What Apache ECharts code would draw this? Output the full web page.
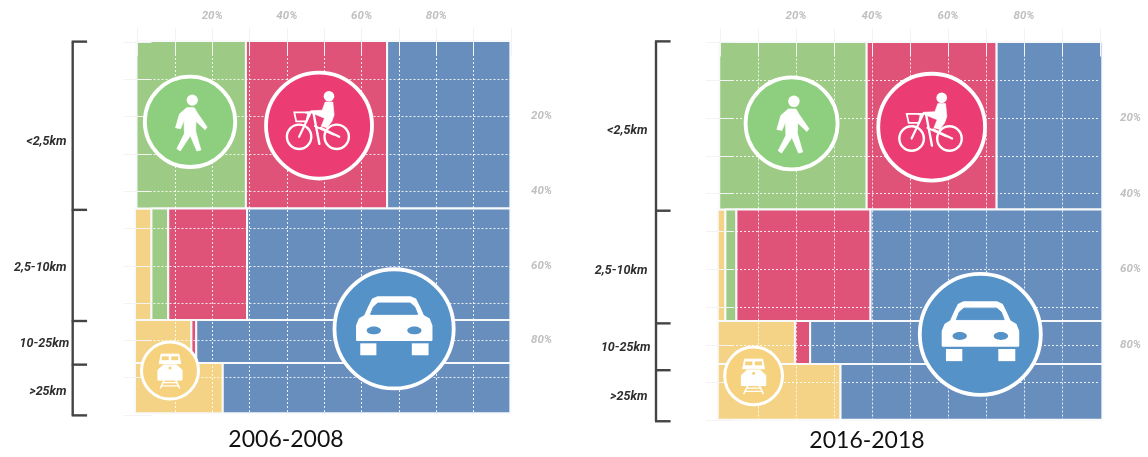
<!DOCTYPE html>
<html><head><meta charset="utf-8">
<style>html,body{margin:0;padding:0;background:#fff}#c{width:1148px;height:457px}</style>
<script src="https://cdn.jsdelivr.net/npm/echarts@6/dist/echarts.min.js"></script>
</head><body><div id="c"></div>
<script>
// ---- data (percent of trips in each distance band) ----
const periods = ['2006-2008', '2016-2018'];
const distanceBands = ['<2,5km', '2,5-10km', '10-25km', '>25km'];
const axisLabelValues = [20, 40, 60, 80];

const trainA = [0, 4.4, 15.1, 23.5];
const walkA  = [29.3, 4.5, 0, 0];
const bikeA  = [37.8, 21.1, 1.3, 0];
const carA   = [33.0, 70.5, 84.1, 77.0];
const rowStartA = [-0.27, -0.67, -0.67, -0.67];
const rowHeightA = [44.9, 29.9, 11.5, 13.5];

const trainB = [0, 2.0, 20.3, 32.3];
const walkB  = [38.8, 2.9, 0, 0];
const bikeB  = [34.2, 35.3, 4.0, 0];
const carB   = [27.8, 61.0, 76.9, 68.9];
const rowStartB = [-0.2, -0.58, -0.58, -0.58];
const rowHeightB = [44.3, 29.5, 11.4, 14.7];

const bracketA = [-0.1, 45, 74.8, 86.5, 100.1];
const bracketB = [-0.3, 44.5, 74.3, 86.7, 100.2];
const bandLabelYA = [26.7, 60.6, 80.9, 93.7];
const bandLabelYB = [23.3, 60.3, 80.7, 93.7];

const iconsA = {walk:[14.06,21.4,45.2], bike:[48.6,22.4,53], car:[68.7,76.9,59.6], train:[8.7,88.1,28.5]};
const iconsB = {walk:[18.84,21.4,46], bike:[55.7,22.4,53.4], car:[68.5,77.2,60.5], train:[8.84,88.2,28.9]};

// ---- style ----
const modeColor = {train:'#f4d386', walk:'#9dcb85', bike:'#e05379', car:'#688ebe'};
const iconColor = {train:'#f6d27e', walk:'#8dcf7e', bike:'#ec3c74', car:'#5592c8'};
const modes = ['train','walk','bike','car'];

function buildRects(mode, tables, starts, heights){
  const out = [];
  let top = heights === rowHeightA ? -0.27 : -0.13;
  heights.forEach((h,i)=>{
    let x = starts[i];
    for (const m of modes){
      const w = tables[m][i];
      if (m === mode && w > 0) out.push([x, x+w, top, top+h]);
      x += w;
    }
    top += h;
  });
  return out;
}
function rectItem(color){
  return (params, api)=>{
    const p0 = api.coord([api.value(0), api.value(2)]);
    const p1 = api.coord([api.value(1), api.value(3)]);
    return {type:'rect', shape:{x:p0[0], y:p0[1], width:p1[0]-p0[0], height:p1[1]-p0[1]},
      style:{fill:color, stroke:'#f7f9fb', lineWidth:2}};
  };
}

// glyph geometry, in unit-circle coordinates derived from the picture
function U(pts, ox, oy, s){ return pts.map(p=>[(p[0]-ox)/s,(p[1]-oy)/s]); }
const walker = U([[170,143],[193,143],[203,160],[232,202],[226,210],[198,184],[197,215],[213,272],[201,275],[181,228],[150,275],[140,268],[163,222],[162,180],[151,207],[136,204],[148,162]],180,186,138);
const riderB = U([[584,125],[608,125],[612,165],[605,185],[590,205],[572,200],[582,175],[545,160],[540,152],[575,150]],565,198,165);
const carBody = U([[740,107],[840,107],[856,114],[868,138],[880,165],[898,175],[906,195],[906,240],[675,240],[675,195],[683,175],[700,165],[712,138],[724,114]],790,205,185);
const carWin = U([[717,160],[726,137],[740,125],[840,125],[854,137],[863,160]],790,205,185);
const carW1 = U([[685,250],[735,250],[735,287],[685,287]],790,205,185);
const carW2 = U([[845,250],[897,250],[897,287],[845,287]],790,205,185);
const trTop = U([[92,278],[148,278],[154,308],[86,308]],120,330,90);
const trW1 = U([[94,285],[116,285],[116,297],[94,297]],120,330,90);
const trW2 = U([[124,285],[146,285],[146,297],[124,297]],120,330,90);
const trBody = U([[100,312],[140,312],[158,328],[158,360],[82,360],[82,328]],120,330,90);

function iconItem(kind){
  return (params, api)=>{
    const c = api.coord([api.value(0), api.value(1)]);
    const r = api.value(2);
    const X = u=>c[0]+u*r, Y = u=>c[1]+u*r;
    const poly = (pts,fill,sw)=>({type:'polygon', shape:{points:pts.map(p=>[X(p[0]),Y(p[1])])},
      style:{fill:fill, stroke:fill, lineWidth:sw===undefined?1:sw, lineJoin:'round'}});
    const line = (a,b,w)=>({type:'line', shape:{x1:X(a[0]),y1:Y(a[1]),x2:X(b[0]),y2:Y(b[1])},
      style:{stroke:'#fff', lineWidth:w, lineCap:'round'}});
    const ring = (u,v,ru,w)=>({type:'circle', shape:{cx:X(u),cy:Y(v),r:ru*r},
      style:{fill:'none', stroke:'#fff', lineWidth:w}});
    const dot = (u,v,ru,f)=>({type:'circle', shape:{cx:X(u),cy:Y(v),r:ru*r}, style:{fill:f||'#fff'}});
    const bg = iconColor[kind];
    const ch = [{type:'circle', shape:{cx:c[0],cy:c[1],r:r}, style:{fill:bg, stroke:'#fff', lineWidth: kind==='train'?3:3.8}}];
    const n = (x,y)=>[(x-565)/165,(y-198)/165];
    if (kind==='walk'){
      ch.push(dot(0.05,-0.48,0.125), poly(walker,'#fff',0.8));
    } else if (kind==='bike'){
      ch.push(dot(...n(596,107),0.1), poly(riderB,'#fff',0.6));
      ch.push(ring(...n(503,233),0.23,2.4), ring(...n(620,233),0.23,2.4));
      ch.push(line(n(540,155),n(503,233),2.2), line(n(548,160),n(566,255),2.4), line(n(570,205),n(628,233),2.2),
              line(n(552,200),n(610,226),2), line(n(525,158),n(560,155),2));
      ch.push({type:'polygon', shape:{points:[n(488,157),n(532,157),n(526,185),n(494,185)].map(p=>[X(p[0]),Y(p[1])])},
              style:{fill:'none', stroke:'#fff', lineWidth:1.8}});
    } else if (kind==='car'){
      ch.push(poly(carBody,'#fff',2), poly(carWin,bg,1));
      ch.push({type:'ellipse', shape:{cx:X(-63/185),cy:Y(5/185),rx:22/185*r,ry:12/185*r}, style:{fill:bg}});
      ch.push({type:'ellipse', shape:{cx:X(63/185),cy:Y(5/185),rx:22/185*r,ry:12/185*r}, style:{fill:bg}});
      ch.push(poly(carW1,'#fff',0), poly(carW2,'#fff',0));
    } else {
      ch.push(poly(trTop,'#fff',1), poly(trW1,bg,0), poly(trW2,bg,0), poly(trBody,'#fff',1), dot(0,-0.09,0.055,bg));
      const t=(x,y)=>[(x-120)/90,(y-330)/90];
      ch.push(line(t(102,360),t(90,385),1.5), line(t(138,360),t(150,385),1.5), line(t(98,368),t(142,368),1.3), line(t(93,378),t(147,378),1.3));
    }
    return {type:'group', children:ch};
  };
}
function bracketItem(stemX, tickX){
  return (params, api)=>{
    const v = api.value(0);
    const a = api.coord([tickX, v]), b = api.coord([stemX, v]);
    const ch = [{type:'line', shape:{x1:b[0]-1,y1:b[1],x2:a[0],y2:a[1]}, style:{stroke:'#444', lineWidth:2.4}}];
    if (params.dataIndex>0){
      const prev = api.coord([stemX, api.value(1)]);
      ch.push({type:'line', shape:{x1:b[0],y1:prev[1],x2:b[0],y2:b[1]}, style:{stroke:'#444', lineWidth:2.4}});
    }
    return {type:'group', children:ch};
  };
}
function labelItem(x, x2){
  return (params, api)=>{
    const p = api.coord([params.dataIndex===2?x2:x, api.value(0)]);
    return {type:'text', x:p[0], y:p[1], style:{text:distanceBands[params.dataIndex], align:'right', verticalAlign:'middle',
      font:'italic 700 12.5px "Liberation Sans Narrow", Roboto, sans-serif', fill:'#2e2e2e'}};
  };
}

function axes(gridIndex){
  const tick = {show:true, length:14, lineStyle:{color:'#f3f3f3', width:1}};
  const split = {show:true, showMinLine:false, showMaxLine:false, lineStyle:{color:'rgba(255,255,255,0.85)', type:[2,2], width:1}};
  const lbl = {show:true, formatter:v=>axisLabelValues.includes(v)?v+'%':'', color:'#c0c0c0',
    fontFamily:'Roboto', fontStyle:'italic', fontWeight:700, fontSize:11.5, margin:20};
  const base = {gridIndex, type:'value', min:0, max:100, interval:10, z:10, axisLine:{show:false}};
  return {
    x:[Object.assign({},base,{position:'top', axisTick:tick, splitLine:split, axisLabel:lbl}),
       Object.assign({},base,{position:'bottom', axisTick:tick, splitLine:{show:false}, axisLabel:{show:false}})],
    y:[Object.assign({},base,{position:'left', inverse:true, axisTick:tick, splitLine:split, axisLabel:{show:false}}),
       Object.assign({},base,{position:'right', inverse:true, axisTick:tick, splitLine:{show:false}, axisLabel:lbl})]
  };
}
const ax0 = axes(0), ax1 = axes(1);

function panelSeries(xi, yi, tables, starts, heights, bracket, labelY, icons, stemX, tickX, lx, lx2){
  const s = [];
  modes.forEach(m=>s.push({type:'custom', name:m, xAxisIndex:xi, yAxisIndex:yi, z:2, clip:false,
    data:buildRects(m,tables,starts,heights), renderItem:rectItem(modeColor[m]), encode:{x:[0,1], y:[2,3]}, silent:true}));
  Object.keys(icons).forEach(k=>s.push({type:'custom', name:k+' icon', xAxisIndex:xi, yAxisIndex:yi, z:20, clip:false,
    data:[icons[k]], renderItem:iconItem(k), encode:{x:0,y:1}, silent:true}));
  s.push({type:'custom', name:'bracket', xAxisIndex:xi, yAxisIndex:yi, z:3, clip:false,
    data:bracket.map((v,i)=>[v, i?bracket[i-1]:v]), renderItem:bracketItem(stemX,tickX), encode:{y:0}, silent:true});
  s.push({type:'custom', name:'bands', xAxisIndex:xi, yAxisIndex:yi, z:3, clip:false,
    data:labelY.map(v=>[v]), renderItem:labelItem(lx,lx2), encode:{y:0}, silent:true});
  return s;
}

const titleStyle = {fontFamily:'Lato', fontWeight:400, fontSize:23, color:'#111'};
const option = {
  backgroundColor:'#fff', animation:false,
  title:[
    {text:periods[0], left:281, top:423, textAlign:'center', textStyle:titleStyle},
    {text:periods[1], left:862, top:424, textAlign:'center', textStyle:titleStyle}
  ],
  grid:[
    {left:137.5, top:42, width:373.5, height:373},
    {left:720, top:42.5, width:380, height:378}
  ],
  xAxis:[...ax0.x, ...ax1.x],
  yAxis:[...ax0.y, ...ax1.y],
  series:[
    ...panelSeries(0,0,{train:trainA,walk:walkA,bike:bikeA,car:carA},rowStartA,rowHeightA,bracketA,bandLabelYA,iconsA,-17.35,-13.5,-19,-18.3),
    ...panelSeries(2,2,{train:trainB,walk:walkB,bike:bikeB,car:carB},rowStartB,rowHeightB,bracketB,bandLabelYB,iconsB,-16.84,-13,-19.1,-18.3)
  ]
};
echarts.init(document.getElementById('c'),null,{renderer:'canvas'}).setOption(option);
</script></body></html>
